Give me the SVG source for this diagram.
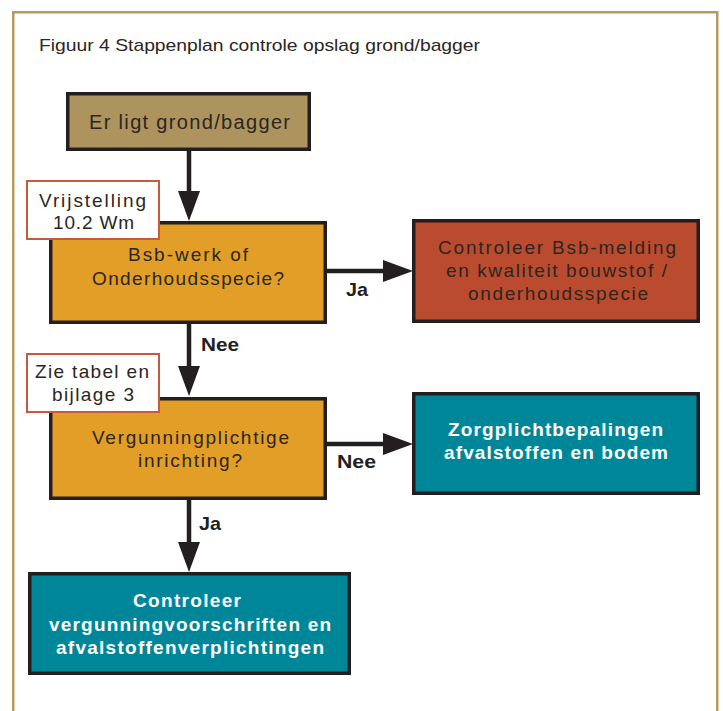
<svg xmlns="http://www.w3.org/2000/svg" width="723" height="711" viewBox="0 0 723 711">
<style>
text{font-family:"Liberation Sans",Arial,sans-serif;}
.t{font-size:19px;fill:#2b2622;}
.tw{font-size:19px;fill:#ffffff;font-weight:bold;}
.lb{font-size:19px;fill:#231f20;font-weight:bold;}
.title{font-size:17px;fill:#2b2622;}
.box{stroke:#231f20;stroke-width:3.5;}
.note{fill:#ffffff;stroke:#c75a3c;stroke-width:2;}
.con{stroke:#231f20;stroke-width:4.5;fill:none;}
</style>
<defs>
<marker id="ah" markerUnits="userSpaceOnUse" markerWidth="30" markerHeight="22" refX="1" refY="11" orient="auto">
<path d="M0,0 L30,11 L0,22 z" fill="#231f20"/>
</marker>
</defs>
<rect x="0" y="0" width="723" height="711" fill="#ffffff"/>
<rect x="13.25" y="12.25" width="704" height="720" fill="#ffffff" stroke="#b39b63" stroke-width="2.5"/>
<text class="title" x="39" y="51" textLength="441" lengthAdjust="spacingAndGlyphs">Figuur 4 Stappenplan controle opslag grond/bagger</text>

<g id="connectors">
<line class="con" x1="189" y1="151" x2="189" y2="192" marker-end="url(#ah)"/>
<line class="con" x1="189" y1="324" x2="189" y2="367" marker-end="url(#ah)"/>
<line class="con" x1="189" y1="500" x2="189" y2="543" marker-end="url(#ah)"/>
<line class="con" x1="327" y1="271" x2="384" y2="271" marker-end="url(#ah)"/>
<line class="con" x1="327" y1="444" x2="384" y2="444" marker-end="url(#ah)"/>
<text class="lb" x="346" y="296" textLength="22" lengthAdjust="spacingAndGlyphs">Ja</text>
<text class="lb" x="201" y="351" textLength="38" lengthAdjust="spacingAndGlyphs">Nee</text>
<text class="lb" x="337" y="468" textLength="39" lengthAdjust="spacingAndGlyphs">Nee</text>
<text class="lb" x="199" y="530" textLength="22" lengthAdjust="spacingAndGlyphs">Ja</text>
</g>

<g id="start">
<rect class="box" x="67.75" y="93.75" width="241.5" height="55.5" fill="#ad935d"/>
<text class="t" style="font-size:20px" x="89" y="129" textLength="201" lengthAdjust="spacing">Er ligt grond/bagger</text>
</g>

<g id="bsb">
<rect class="box" x="50.75" y="222.75" width="274.5" height="99.5" fill="#e29e27"/>
<text class="t" x="128" y="261" textLength="120" lengthAdjust="spacing">Bsb-werk of</text>
<text class="t" x="92" y="285" textLength="192" lengthAdjust="spacing">Onderhoudsspecie?</text>
</g>

<g id="note-vrijstelling">
<rect class="note" x="27" y="181" width="132" height="58"/>
<text class="t" x="39" y="207" textLength="107" lengthAdjust="spacing">Vrijstelling</text>
<text class="t" x="53" y="229" textLength="81" lengthAdjust="spacing">10.2 Wm</text>
</g>

<g id="controleer-bsb">
<rect class="box" x="413.75" y="220.75" width="284.5" height="100.5" fill="#bb4b2e"/>
<text class="t" x="438" y="254" textLength="238" lengthAdjust="spacing">Controleer Bsb-melding</text>
<text class="t" x="446" y="277" textLength="221" lengthAdjust="spacing">en kwaliteit bouwstof /</text>
<text class="t" x="468" y="300" textLength="180" lengthAdjust="spacing">onderhoudsspecie</text>
</g>

<g id="vergunning">
<rect class="box" x="50.75" y="398.75" width="274.5" height="99.5" fill="#e29e27"/>
<text class="t" x="92" y="444" textLength="197" lengthAdjust="spacing">Vergunningplichtige</text>
<text class="t" x="138" y="467" textLength="104" lengthAdjust="spacing">inrichting?</text>
</g>

<g id="note-tabel">
<rect class="note" x="27" y="354" width="132" height="58"/>
<text class="t" x="35" y="378" textLength="114" lengthAdjust="spacing">Zie tabel en</text>
<text class="t" x="52" y="401" textLength="82" lengthAdjust="spacing">bijlage 3</text>
</g>

<g id="zorgplicht">
<rect class="box" x="413.75" y="393.75" width="284.5" height="99.5" fill="#008699"/>
<text class="tw" x="448" y="436" textLength="215" lengthAdjust="spacing">Zorgplichtbepalingen</text>
<text class="tw" x="444" y="459" textLength="224" lengthAdjust="spacing">afvalstoffen en bodem</text>
</g>

<g id="controleer-vergunning">
<rect class="box" x="29.75" y="573.75" width="319.5" height="99.5" fill="#008699"/>
<text class="tw" x="133" y="607" textLength="108" lengthAdjust="spacing">Controleer</text>
<text class="tw" x="49" y="631" textLength="282" lengthAdjust="spacing">vergunningvoorschriften en</text>
<text class="tw" x="56" y="654" textLength="268" lengthAdjust="spacing">afvalstoffenverplichtingen</text>
</g>
</svg>
